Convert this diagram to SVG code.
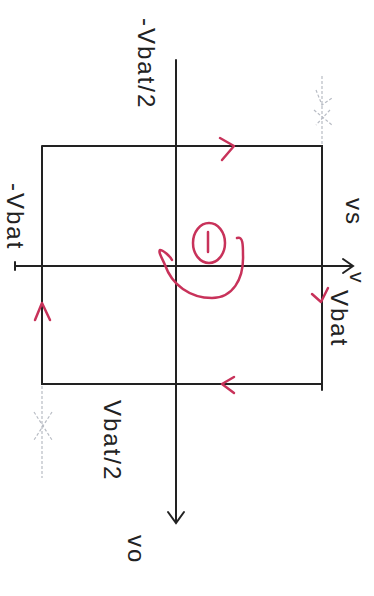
<svg xmlns="http://www.w3.org/2000/svg" width="374" height="596" viewBox="0 0 374 596">
<style>
.ax{stroke:#222;stroke-width:2;fill:none;stroke-linecap:round}
.rd{stroke:#c8325a;stroke-width:2.5;fill:none;stroke-linecap:round;stroke-linejoin:round}
.gr{stroke:#b8bcc4;stroke-width:1.2;fill:none;stroke-dasharray:3 2}
.lb{font-family:"Liberation Sans",Arial,sans-serif;font-size:24px;fill:#222;letter-spacing:2px}
</style>
<rect width="374" height="596" fill="#fff"/>
<g id="connectors">
  <line class="ax" x1="176" y1="60" x2="176" y2="522"/>
  <path class="ax" d="M168,512 L176,523 L184,512"/>
  <line class="ax" x1="15" y1="266" x2="352" y2="266"/>
  <path class="ax" d="M343,259 L353,266 L343,273"/>
</g>
<g id="square">
  <path class="ax" d="M42,146 L322,146 L322,390 M322,384 L42,384 L42,146"/>
  <line class="ax" x1="170" y1="146" x2="182" y2="146"/>
  <line class="ax" x1="170" y1="384" x2="182" y2="384"/>
  <line class="ax" x1="15" y1="262" x2="15" y2="270"/>
</g>
<g id="faint-marks">
  <line class="gr" x1="322" y1="144" x2="322" y2="75"/>
  <path class="gr" d="M316,90 L322,105 L332,98 M314,110 L332,125 M330,110 L316,125"/>
  <line class="gr" x1="42" y1="386" x2="42" y2="478"/>
  <path class="gr" d="M34,412 L52,440 M52,412 L34,440"/>
</g>
<g id="flow-arrows">
  <path class="rd" d="M220,138 L234,146 L222,160"/>
  <path class="rd" d="M234,377 L222,384 L234,393"/>
  <path class="rd" d="M35,320 L42,303 L50,320"/>
  <path class="rd" d="M312,294 L321,302 L328,288"/>
</g>
<g id="loop">
  <ellipse class="rd" cx="209" cy="243" rx="16" ry="20"/>
  <line class="rd" x1="208" y1="232" x2="208" y2="252"/>
  <path class="rd" d="M237,238 C243,236 243,245 243,255 C244,280 232,298 212,298 C190,298 172,285 165,265 C162,258 158,252 160,250 C163,250 170,256 172,260"/>
</g>
<g id="labels">
  <text class="lb" transform="translate(138,18) rotate(90)">-Vbat/2</text>
  <text class="lb" transform="translate(7,183) rotate(90)">-Vbat</text>
  <text class="lb" transform="translate(346,198) rotate(90)">vs</text>
  <text class="lb" style="font-size:21px;letter-spacing:0" transform="translate(350,272) rotate(90)">v</text>
  <text class="lb" transform="translate(331,290) rotate(90)">Vbat</text>
  <text class="lb" transform="translate(104,400) rotate(90)">Vbat/2</text>
  <text class="lb" transform="translate(128,535) rotate(90)">vo</text>
</g>
</svg>
